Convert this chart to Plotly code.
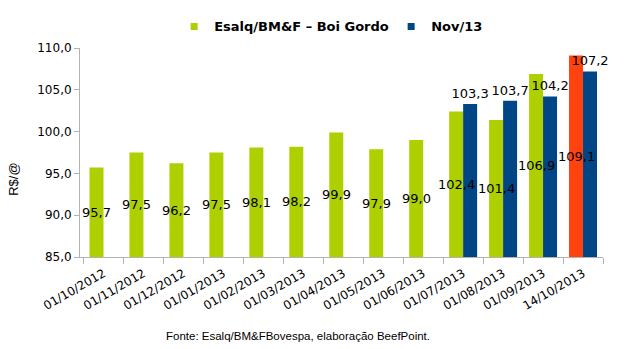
import plotly.graph_objects as go

categories = ["01/10/2012", "01/11/2012", "01/12/2012", "01/01/2013", "01/02/2013",
              "01/03/2013", "01/04/2013", "01/05/2013", "01/06/2013", "01/07/2013",
              "01/08/2013", "01/09/2013", "14/10/2013"]
esalq = [95.7, 97.5, 96.2, 97.5, 98.1, 98.2, 99.9, 97.9, 99.0, 102.4, 101.4, 106.9, 109.1]
nov13 = [None, None, None, None, None, None, None, None, None, 103.3, 103.7, 104.2, 107.2]
series_names = ["Esalq/BM&F – Boi Gordo", "Nov/13"]

Y_MIN, Y_MAX = 85, 110

GREEN = "#AECF00"
RED = "#FF420E"
BLUE = "#004586"
green_colors = [GREEN] * (len(esalq) - 1) + [RED]

fmt = lambda v: ("%.1f" % v).replace(".", ",")

fig = go.Figure()
fig.add_trace(go.Bar(
    x=categories, y=esalq, name=series_names[0], showlegend=False,
    marker=dict(color=green_colors, line=dict(width=0)),
))
fig.add_trace(go.Bar(
    x=categories, y=nov13, name=series_names[1], showlegend=False,
    marker=dict(color=BLUE, line=dict(width=0)),
    text=[fmt(v) if v is not None else "" for v in nov13], textposition="outside",
    textangle=0, constraintext="none",
    outsidetextfont=dict(family="DejaVu Sans", size=13, color="black"),
    cliponaxis=False,
))
# legend entries with small square swatches
for name, col in zip(series_names, [GREEN, BLUE]):
    fig.add_trace(go.Scatter(x=[None], y=[None], mode="markers", name=name,
                             marker=dict(symbol="square", size=7, color=col),
                             showlegend=True))

annotations = []
# green series labels, centred in the bar (mid-height between axis minimum and value)
for c, v in zip(categories, esalq):
    annotations.append(dict(
        x=c, y=(Y_MIN + v) / 2, xref="x", yref="y", text=fmt(v), showarrow=False,
        xshift=-7, xanchor="center", yanchor="middle",
        font=dict(family="DejaVu Sans", size=13, color="black")))
annotations += [
    dict(text="R$/@", xref="paper", yref="paper", x=-0.126, y=0.37,
         textangle=-90, showarrow=False, xanchor="center", yanchor="middle",
         font=dict(family="Liberation Sans", size=13)),
    dict(text="Fonte: Esalq/BM&FBovespa, elaboração BeefPoint.", xref="paper", yref="paper",
         x=0.417, y=-0.377, showarrow=False, xanchor="center", yanchor="middle",
         font=dict(family="Liberation Sans", size=11.5)),
]

fig.update_layout(
    width=630, height=349,
    margin=dict(l=80, r=27, t=46, b=92),
    paper_bgcolor="white", plot_bgcolor="white",
    barmode="group", bargap=0.3, bargroupgap=0,
    separators=",.",
    font=dict(family="DejaVu Sans", size=12, color="black"),
    showlegend=True,
    legend=dict(orientation="h", xref="paper", yref="paper",
                x=0.18, xanchor="left", y=1.175, yanchor="top",
                font=dict(family="DejaVu Sans", size=13, color="black", weight="bold"),
                itemwidth=30, tracegroupgap=0, entrywidth=172),
    xaxis=dict(type="category", showgrid=False, showline=True, linecolor="#b3b3b3",
               ticks="outside", tickson="boundaries", ticklen=6, tickcolor="#b3b3b3",
               tickangle=-30, tickfont=dict(family="DejaVu Sans", size=12),
               automargin=False, ticklabelstandoff=4),
    yaxis=dict(range=[Y_MIN, Y_MAX], dtick=5, tickformat=".1f", showgrid=False,
               showline=True, linecolor="#b3b3b3", ticks="outside", ticklen=5,
               tickcolor="#b3b3b3", tickfont=dict(family="DejaVu Sans", size=12),
               zeroline=False, automargin=False),
    annotations=annotations,
)

fig.write_html("out.html")
